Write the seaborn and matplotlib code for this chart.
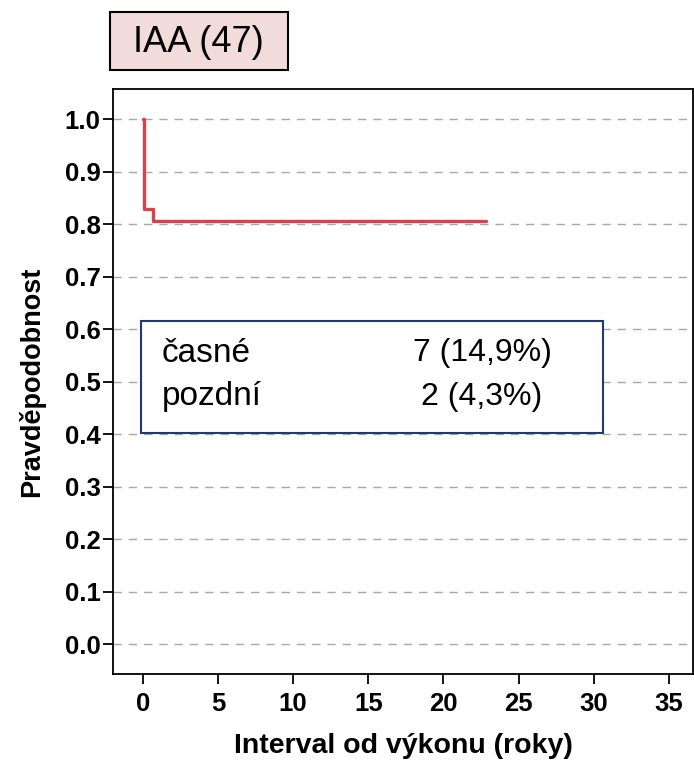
import numpy as np
import pandas as pd
import matplotlib
matplotlib.use('Agg')
import matplotlib.pyplot as plt
from matplotlib.patches import Rectangle
import seaborn as sns

# Kaplan-Meier survival curve for IAA group
time_years = [0.0, 0.05, 0.65, 22.8]
survival = [1.0, 0.83, 0.807, 0.807]

group_title = 'IAA (47)'
event_labels = ['časné', 'pozdní']
event_counts = ['7 (14,9%)', '2 (4,3%)']

x_ticks = [0, 5, 10, 15, 20, 25, 30, 35]
y_ticks = [0.0, 0.1, 0.2, 0.3, 0.4, 0.5, 0.6, 0.7, 0.8, 0.9, 1.0]

sns.set_style('white')
plt.rcParams['font.family'] = ['Liberation Sans', 'DejaVu Sans']
plt.rcParams['text.color'] = 'black'
plt.rcParams['axes.labelcolor'] = 'black'
plt.rcParams['xtick.color'] = 'black'
plt.rcParams['ytick.color'] = 'black'

W, H = 694, 764
fig = plt.figure(figsize=(W / 100, H / 100), dpi=100)
ax = fig.add_axes([113 / W, 1 - 674 / H, (693 - 113) / W, (674 - 89) / H])

df = pd.DataFrame({'t': time_years, 's': survival})
sns.lineplot(data=df, x='t', y='s', drawstyle='steps-post', color='#d8424a',
             linewidth=2.4, ax=ax, zorder=3)

ax.set_xlim(-1.98, 36.6)
ax.set_ylim(-0.057, 1.058)
ax.set_xticks(x_ticks)
ax.set_yticks(y_ticks)
ax.set_xticklabels([str(v) for v in x_ticks], fontsize=18.5, fontweight='bold')
ax.set_yticklabels([f'{v:.1f}' for v in y_ticks], fontsize=18.5, fontweight='bold')

for v in y_ticks:
    ax.axhline(v, color='#a8a8a8', linewidth=1.0, linestyle=(0, (6, 5)), zorder=1)

for sp in ax.spines.values():
    sp.set_color('black')
    sp.set_linewidth(1.3)

ax.tick_params(axis='both', direction='out', length=7, width=1.3, color='black',
               left=True, bottom=True, pad=2)
ax.tick_params(axis='x', pad=6)

ax.set_xlabel('Interval od výkonu (roky)', fontsize=20.5, fontweight='bold', labelpad=12)
ax.set_ylabel('Pravděpodobnost', fontsize=19.5, fontweight='bold', labelpad=14)

# title box
fig.patches.append(Rectangle((110 / W, 1 - 70 / H), (288 - 110) / W, (70 - 12) / H,
                             transform=fig.transFigure, facecolor='#f2dcdb',
                             edgecolor='black', linewidth=1.5))
fig.text(198 / W, 1 - 42 / H, group_title, fontsize=26, ha='center', va='center')

# legend-like box
fig.patches.append(Rectangle((141 / W, 1 - 433 / H), (603 - 141) / W, (433 - 321) / H,
                             transform=fig.transFigure, facecolor='white',
                             edgecolor='#1f3a6e', linewidth=1.5, zorder=5))
rows_y = [353, 397]
for lab, cnt, yy in zip(event_labels, event_counts, rows_y):
    fig.text(162 / W, 1 - yy / H, lab, fontsize=24, ha='left', va='center', zorder=6)
    fig.text(482 / W, 1 - yy / H, cnt, fontsize=23, ha='center', va='center', zorder=6)

fig.savefig('out.png', dpi=100, facecolor='white')
